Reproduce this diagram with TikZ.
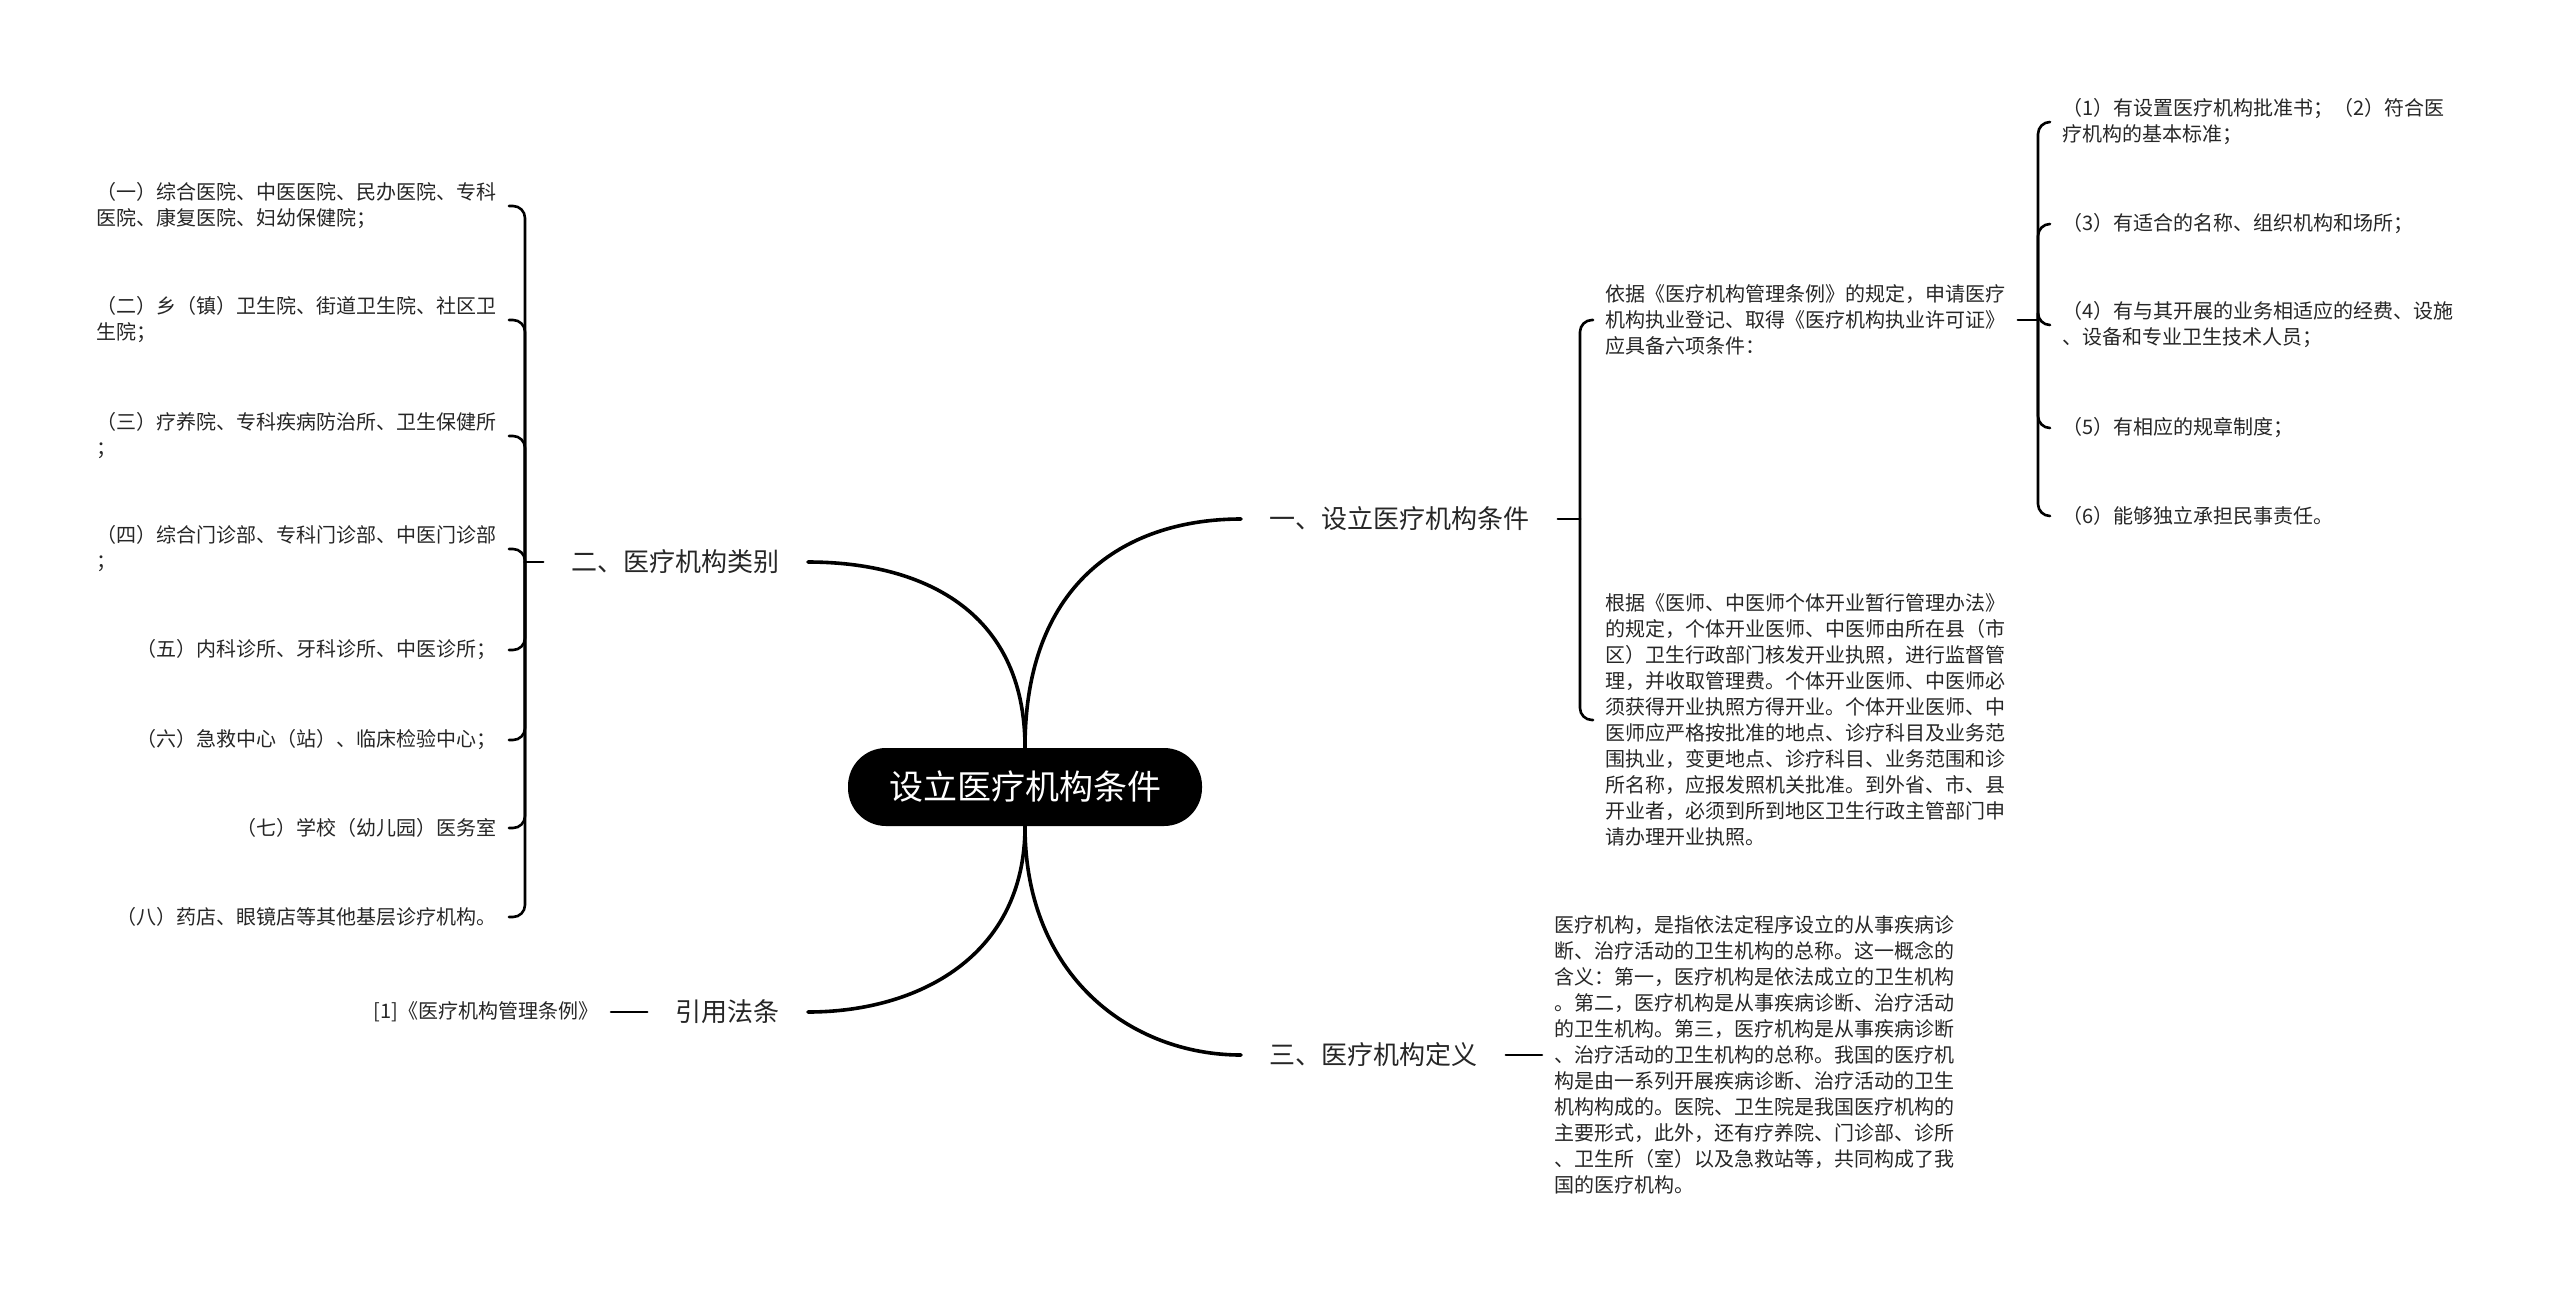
\documentclass[tikz,border=0pt]{standalone}
\usepackage{fontspec}
\setmainfont{Noto Sans CJK SC}
\usetikzlibrary{positioning}

\begin{document}
\begin{tikzpicture}[
		x=0.5pt, y=-0.5pt,
		root/.style={fill=black, text=white, rounded corners=19pt, minimum width=177pt, minimum height=39pt, inner sep=0pt, font=\fontsize{17}{20}\selectfont},
		branch/.style={inner xsep=14pt, inner ysep=2pt, text=black!85, font=\fontsize{13}{16}\selectfont},
		leaf/.style={inner xsep=6pt, inner ysep=0pt, align=left, text=black!85, font=\fontsize{10}{13}\selectfont},
		trunk/.style={line width=1.8pt, line cap=round},
		twig/.style={line width=1.3pt, line cap=round, rounded corners=6pt},
	]
		\useasboundingbox (0,0) rectangle (2560,1291);
		
		\node (root) [root] at (1025,787) {设立医疗机构条件};
		
		\node (cond) [branch, anchor=west] at (1241,519) {一、设立医疗机构条件};
		\node (kind) [branch, anchor=east] at (808,562) {二、医疗机构类别};
		\node (defn) [branch, anchor=west] at (1241,1055) {三、医疗机构定义};
		\node (law) [branch, anchor=east] at (808,1012) {引用法条};
		
		\draw[trunk] (root.north) .. controls +(0,-170) and +(-110,0) .. (cond.west);
		\draw[trunk] (root.north) .. controls +(0,-140) and +(110,0) .. (kind.east);
		\draw[trunk] (root.south) .. controls +(0,130) and +(110,0) .. (law.east);
		\draw[trunk] (root.south) .. controls +(0,150) and +(-110,0) .. (defn.west);
		
		% 一
		\node (rule) [leaf, anchor=west] at (1593,320) {依据《医疗机构管理条例》的规定，申请医疗\\机构执业登记、取得《医疗机构执业许可证》\\应具备六项条件：};
		\node (solo) [leaf, anchor=west] at (1593,720) {根据《医师、中医师个体开业暂行管理办法》\\的规定，个体开业医师、中医师由所在县（市\\区）卫生行政部门核发开业执照，进行监督管\\理，并收取管理费。个体开业医师、中医师必\\须获得开业执照方得开业。个体开业医师、中\\医师应严格按批准的地点、诊疗科目及业务范\\围执业，变更地点、诊疗科目、业务范围和诊\\所名称，应报发照机关批准。到外省、市、县\\开业者，必须到所到地区卫生行政主管部门申\\请办理开业执照。};
		\coordinate (jc) at (1580,519);
		\draw[twig] (cond.east) -- (jc);
		\draw[twig] (jc) |- (rule.west);
		\draw[twig] (jc) |- (solo.west);
		
		\node (req1) [leaf, anchor=west] at (2050,122) {（1）有设置医疗机构批准书；（2）符合医\\疗机构的基本标准；};
		\node (req2) [leaf, anchor=west] at (2050,224) {（3）有适合的名称、组织机构和场所；};
		\node (req3) [leaf, anchor=west] at (2050,325) {（4）有与其开展的业务相适应的经费、设施\\、设备和专业卫生技术人员；};
		\node (req4) [leaf, anchor=west] at (2050,428) {（5）有相应的规章制度；};
		\node (req5) [leaf, anchor=west] at (2050,516) {（6）能够独立承担民事责任。};
		\coordinate (jr) at (2038,320);
		\draw[twig] (rule.east) -- (jr);
		\foreach \i in {1,...,5}
			\draw[twig] (jr) |- (req\i.west);
		
		% 二
		\node (cat1) [leaf, anchor=east] at (509,206) {（一）综合医院、中医医院、民办医院、专科\\医院、康复医院、妇幼保健院；};
		\node (cat2) [leaf, anchor=east] at (509,320) {（二）乡（镇）卫生院、街道卫生院、社区卫\\生院；};
		\node (cat3) [leaf, anchor=east] at (509,436) {（三）疗养院、专科疾病防治所、卫生保健所\\；};
		\node (cat4) [leaf, anchor=east] at (509,549) {（四）综合门诊部、专科门诊部、中医门诊部\\；};
		\node (cat5) [leaf, anchor=east] at (509,650) {（五）内科诊所、牙科诊所、中医诊所；};
		\node (cat6) [leaf, anchor=east] at (509,740) {（六）急救中心（站）、临床检验中心；};
		\node (cat7) [leaf, anchor=east] at (509,828) {（七）学校（幼儿园）医务室};
		\node (cat8) [leaf, anchor=east] at (509,917) {（八）药店、眼镜店等其他基层诊疗机构。};
		\coordinate (jk) at (525,562);
		\draw[twig] (kind.west) -- (jk);
		\foreach \i in {1,...,8}
			\draw[twig] (jk) |- (cat\i.east);
		
		% 三 and 引用法条
		\node (mean) [leaf, anchor=west] at (1542,1055) {医疗机构，是指依法定程序设立的从事疾病诊\\断、治疗活动的卫生机构的总称。这一概念的\\含义：第一，医疗机构是依法成立的卫生机构\\。第二，医疗机构是从事疾病诊断、治疗活动\\的卫生机构。第三，医疗机构是从事疾病诊断\\、治疗活动的卫生机构的总称。我国的医疗机\\构是由一系列开展疾病诊断、治疗活动的卫生\\机构构成的。医院、卫生院是我国医疗机构的\\主要形式，此外，还有疗养院、门诊部、诊所\\、卫生所（室）以及急救站等，共同构成了我\\国的医疗机构。};
		\draw[twig] (defn.east) -- (mean.west);
		
		\node (cite) [leaf, anchor=east] at (611,1012) {[1]《医疗机构管理条例》};
		\draw[twig] (law.west) -- (cite.east);
\end{tikzpicture}
\end{document}
